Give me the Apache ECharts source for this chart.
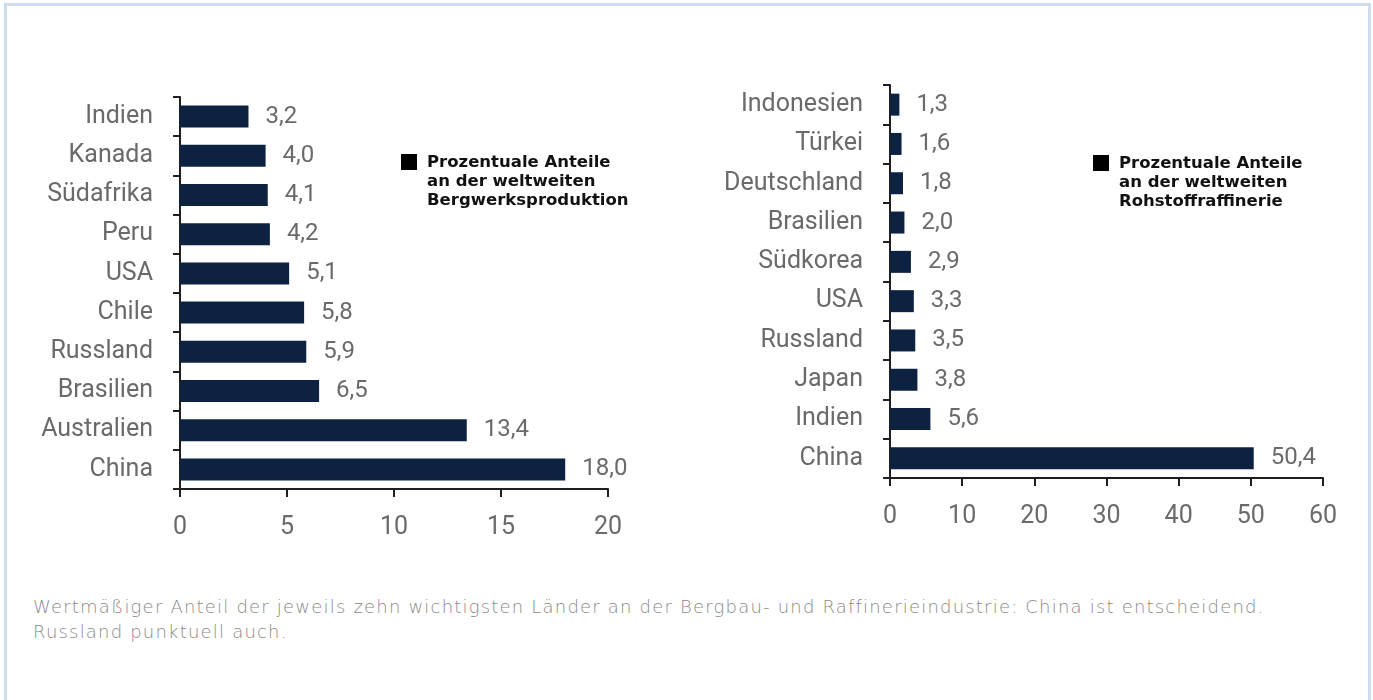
<!DOCTYPE html>
<html>
<head>
<meta charset="utf-8">
<script src="https://cdn.jsdelivr.net/npm/echarts@6/dist/echarts.min.js"></script>
<style>
  html, body { margin: 0; padding: 0; background: #fff; overflow: hidden; }
  #frame {
    position: absolute; left: 4px; top: 3px; width: 1361px; height: 720px;
    border: 3px solid #cfdcef; box-sizing: content-box;
  }
  #chart { position: absolute; left: 0; top: 0; width: 1373px; height: 560px; }
  #caption {
    position: absolute; left: 33px; top: 594px; width: 1330px; white-space: nowrap;
    font-family: "DejaVu Sans ExtraLight", "DejaVu Sans", sans-serif; font-weight: 200;
    font-size: 18px; letter-spacing: 1.2px; line-height: 25px; color: #8a8a8a;
  }
</style>
</head>
<body>
<div id="frame"></div>
<div id="chart"></div>
<div id="caption">Wertmäßiger Anteil der jeweils zehn wichtigsten Länder an der Bergbau- und Raffinerieindustrie: China ist entscheidend.<br>Russland punktuell auch.</div>
<script>
const mineCountries = ["Indien", "Kanada", "Südafrika", "Peru", "USA", "Chile", "Russland", "Brasilien", "Australien", "China"];
const mineShares = [3.2, 4.0, 4.1, 4.2, 5.1, 5.8, 5.9, 6.5, 13.4, 18.0];
const refineCountries = ["Indonesien", "Türkei", "Deutschland", "Brasilien", "Südkorea", "USA", "Russland", "Japan", "Indien", "China"];
const refineShares = [1.3, 1.6, 1.8, 2.0, 2.9, 3.3, 3.5, 3.8, 5.6, 50.4];
const mineLegend = ["Prozentuale Anteile", "an der weltweiten", "Bergwerksproduktion"];
const refineLegend = ["Prozentuale Anteile", "an der weltweiten", "Rohstoffraffinerie"];

const BAR = "#0c2240";
const AXIS = "#1f1f1f";
const LABEL = "#6a6a6a";
const FONT = "Roboto, 'Liberation Sans', sans-serif";
const fmt = v => v.toFixed(1).replace(".", ",");

function xAxis(gridIndex, max, interval) {
  return {
    gridIndex, type: "value", min: 0, max, interval,
    axisLine: { show: true, lineStyle: { color: AXIS, width: 2 } },
    axisTick: { show: true, length: 8, lineStyle: { color: AXIS, width: 2 } },
    axisLabel: { color: LABEL, fontSize: 25, fontFamily: FONT, margin: 26 },
    splitLine: { show: false }
  };
}

function yAxis(gridIndex, data) {
  return {
    gridIndex, type: "category", inverse: true, data,
    axisLine: { show: true, lineStyle: { color: AXIS, width: 2 } },
    axisTick: { show: true, length: 7, lineStyle: { color: AXIS, width: 2 } },
    axisLabel: { color: LABEL, fontSize: 25, fontFamily: FONT, margin: 27 }
  };
}

function barSeries(index, data) {
  return {
    type: "bar", xAxisIndex: index, yAxisIndex: index, data,
    barWidth: 22, itemStyle: { color: BAR },
    label: {
      show: true, position: "right", distance: 17, color: LABEL,
      fontSize: 24, fontFamily: FONT, formatter: p => fmt(p.value)
    }
  };
}

function legendBlock(x, y, lines) {
  return {
    type: "group", left: x, top: y,
    children: [
      { type: "rect", shape: { x: 0, y: 1, width: 16, height: 16 }, style: { fill: "#000" } },
      {
        type: "text", x: 26, y: 0,
        style: {
          text: lines.join("\n"), fill: "#111", font: "bold 16.5px 'DejaVu Sans', sans-serif",
          lineHeight: 19
        }
      }
    ]
  };
}

const chart = echarts.init(document.getElementById("chart"), null, { renderer: "canvas" });
chart.setOption({
  animation: false,
  grid: [
    { left: 180, top: 97, width: 428, height: 392 },
    { left: 890, top: 85, width: 433, height: 393 }
  ],
  xAxis: [xAxis(0, 20, 5), xAxis(1, 60, 10)],
  yAxis: [yAxis(0, mineCountries), yAxis(1, refineCountries)],
  series: [barSeries(0, mineShares), barSeries(1, refineShares)],
  graphic: [legendBlock(401, 153, mineLegend), legendBlock(1093, 154, refineLegend)]
});
</script>
</body>
</html>
